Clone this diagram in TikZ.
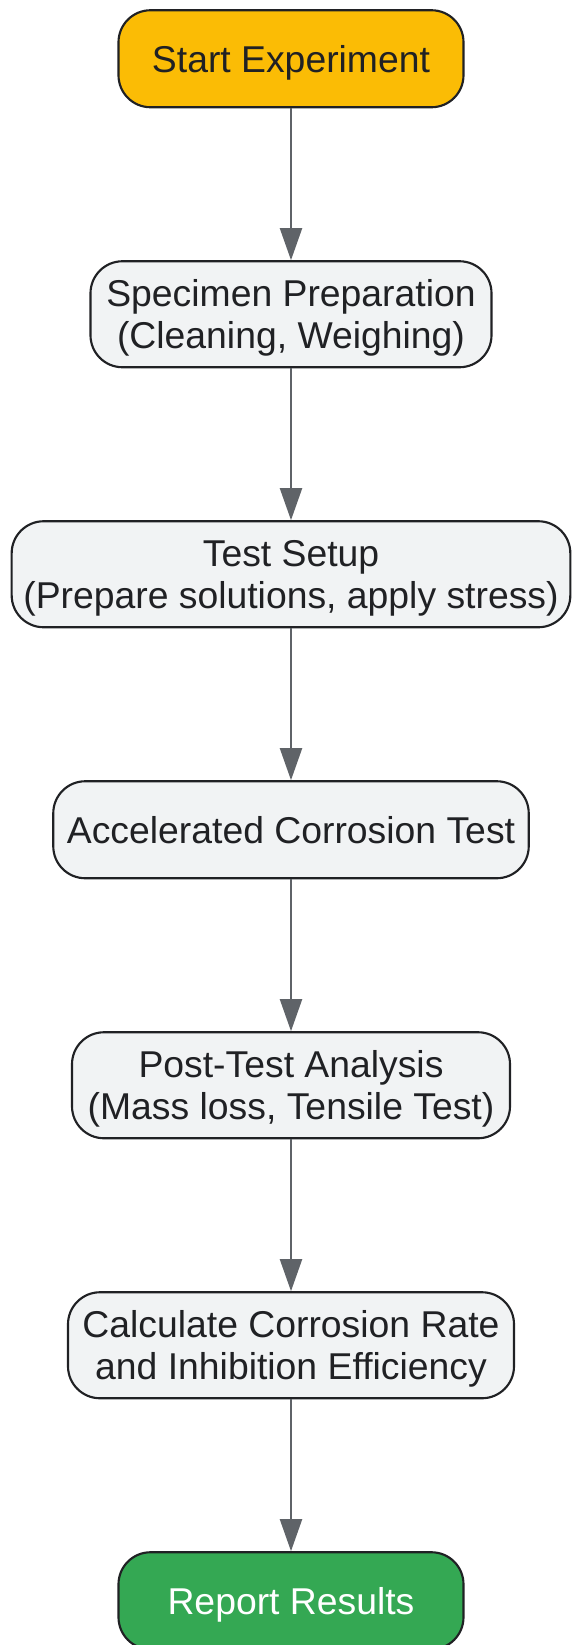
\documentclass[tikz,border=0pt]{standalone}
\usepackage{fontspec}
\setmainfont{Liberation Sans}
\usetikzlibrary{arrows.meta,positioning}
\definecolor{startyellow}{HTML}{FBBC05}
\definecolor{endgreen}{HTML}{34A853}
\definecolor{boxgray}{HTML}{F1F3F4}
\definecolor{edgedark}{HTML}{202124}
\definecolor{arrowgray}{HTML}{5F6368}

\begin{document}
\begin{tikzpicture}[node distance=113.9pt,
  box/.style={draw=edgedark, line width=1.6pt, rounded corners=24pt, fill=boxgray, text=edgedark, align=center, inner sep=0pt, text depth=-3pt, font=\fontsize{28}{31.5}\selectfont},
  oneline/.style={box, minimum height=72.75pt},
  twoline/.style={box, minimum height=79.5pt},
  flow/.style={draw=arrowgray, line width=1.6pt, -{Triangle[length=24pt,width=16.5pt]}}]
\useasboundingbox (0,0) rectangle (428.25pt,-1233.75pt);
\node[oneline, fill=startyellow, minimum width=258.75pt] (start) at (218.25pt,-44.06pt) {Start Experiment};
\node[twoline, minimum width=300.75pt, below=of start] (prep) {Specimen Preparation\\(Cleaning, Weighing)};
\node[twoline, minimum width=419pt, below=of prep] (setup) {Test Setup\\(Prepare solutions, apply stress)};
\node[oneline, minimum width=356.6pt, below=of setup] (test) {Accelerated Corrosion Test};
\node[twoline, minimum width=328.5pt, below=of test] (post) {Post-Test Analysis\\(Mass loss, Tensile Test)};
\node[twoline, minimum width=334.5pt, below=of post] (calc) {Calculate Corrosion Rate\\and Inhibition Efficiency};
\node[oneline, fill=endgreen, text=white, minimum width=258.75pt, below=of calc] (report) {Report Results};
% connectors
\draw[flow] (start.south) -- (prep.north);
\draw[flow] (prep.south) -- (setup.north);
\draw[flow] (setup.south) -- (test.north);
\draw[flow] (test.south) -- (post.north);
\draw[flow] (post.south) -- (calc.north);
\draw[flow] (calc.south) -- (report.north);
\end{tikzpicture}
\end{document}
